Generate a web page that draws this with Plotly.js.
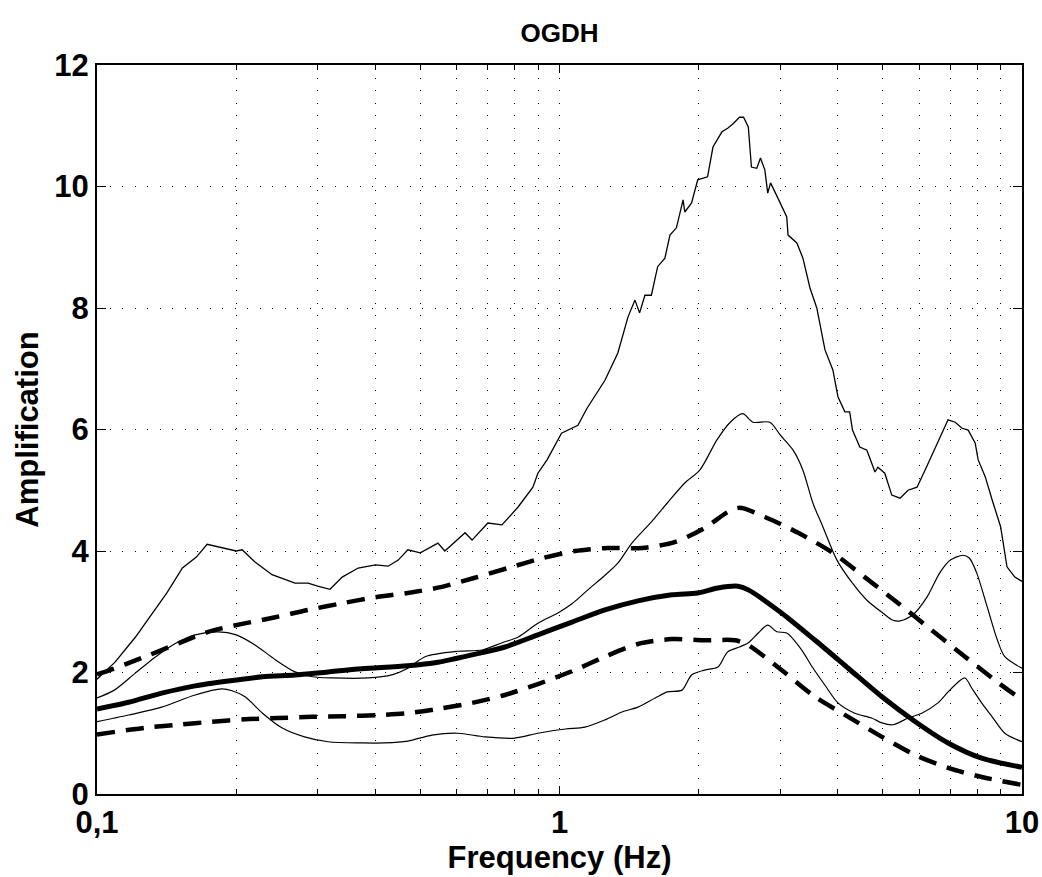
<!DOCTYPE html>
<html>
<head>
<meta charset="utf-8">
<script src="https://cdn.plot.ly/plotly-3.0.1.min.js"></script>
<style>html,body{margin:0;padding:0;background:#fff;}#chart{width:1042px;height:877px;}</style>
</head>
<body>
<div id="chart"></div>
<script>
// Upper thin curve
var fA = [0.1,0.1094,0.121,0.132,0.1416,0.153,0.164,0.173,0.186,0.2,0.206,0.2196,0.239,0.268,0.286,0.3,0.319,0.339,0.367,0.4,0.426,0.448,0.47,0.5,0.546,0.565,0.625,0.647,0.7,0.751,0.813,0.876,0.898,0.94,1.01,1.096,1.147,1.254,1.337,1.406,1.456,1.49,1.53,1.58,1.63,1.69,1.733,1.79,1.85,1.866,1.93,1.99,2.09,2.147,2.245,2.31,2.37,2.45,2.5,2.56,2.6,2.67,2.72,2.78,2.82,2.86,3.0,3.1,3.12,3.26,3.36,3.48,3.6,3.75,3.9,4.0,4.14,4.24,4.3,4.46,4.62,4.81,4.88,5.05,5.23,5.45,5.67,5.93,6.17,6.42,6.64,6.92,7.17,7.42,7.65,7.92,8.04,8.33,8.62,8.99,9.28,9.65,10];
var aA = [1.89,2.17,2.58,2.98,3.31,3.72,3.90,4.11,4.05,4.0,4.02,3.82,3.61,3.47,3.47,3.42,3.37,3.57,3.72,3.77,3.75,3.85,4.02,3.97,4.13,4.0,4.30,4.18,4.46,4.43,4.72,5.05,5.28,5.50,5.94,6.07,6.35,6.81,7.26,7.85,8.13,7.92,8.21,8.21,8.68,8.82,9.20,9.32,9.78,9.58,9.73,10.11,10.16,10.65,10.90,10.96,11.03,11.14,11.14,10.98,10.32,10.30,10.47,10.27,9.89,10.06,9.73,9.50,9.20,9.07,8.82,8.33,8.0,7.31,6.98,6.54,6.29,6.29,5.99,5.71,5.66,5.30,5.38,5.28,4.92,4.87,5.0,5.05,5.33,5.61,5.86,6.16,6.12,6.02,5.99,5.78,5.50,5.22,4.84,4.40,3.74,3.57,3.5];
// Middle thin curve
var fB = [0.1,0.109,0.121,0.134,0.148,0.163,0.183,0.2,0.22,0.243,0.268,0.292,0.323,0.385,0.434,0.47,0.512,0.603,0.68,0.751,0.813,0.898,0.992,1.064,1.152,1.254,1.337,1.434,1.58,1.71,1.866,2.01,2.19,2.34,2.49,2.62,2.85,3.0,3.2,3.36,3.53,3.71,3.98,4.3,4.62,5.0,5.26,5.45,5.81,6.23,6.64,7.0,7.45,7.7,7.98,8.41,8.85,9.18,10];
var aB = [1.58,1.71,1.99,2.26,2.48,2.62,2.67,2.62,2.45,2.21,2.01,1.93,1.91,1.91,1.96,2.07,2.26,2.35,2.37,2.49,2.58,2.81,2.98,3.13,3.36,3.60,3.80,4.13,4.48,4.79,5.12,5.33,5.83,6.12,6.26,6.12,6.12,5.91,5.66,5.33,4.79,4.40,3.85,3.47,3.19,2.98,2.86,2.85,2.95,3.24,3.64,3.85,3.93,3.88,3.64,3.08,2.53,2.26,2.07];
// Lower thin curve
var fC = [0.1,0.117,0.138,0.163,0.186,0.196,0.209,0.228,0.251,0.281,0.316,0.374,0.419,0.47,0.53,0.603,0.69,0.80,0.898,1.03,1.135,1.254,1.365,1.478,1.61,1.71,1.84,1.93,2.06,2.20,2.31,2.45,2.56,2.69,2.82,2.95,3.10,3.34,3.52,3.75,4.0,4.35,4.73,4.98,5.26,5.67,6.07,6.58,6.92,7.27,7.53,7.79,8.18,8.62,9.18,10];
var aC = [1.19,1.30,1.43,1.63,1.73,1.70,1.60,1.33,1.09,0.94,0.86,0.84,0.84,0.87,0.97,1.0,0.94,0.92,1.0,1.07,1.10,1.22,1.35,1.43,1.58,1.68,1.71,1.96,2.04,2.09,2.34,2.42,2.49,2.65,2.78,2.67,2.65,2.37,2.09,1.79,1.50,1.33,1.25,1.17,1.14,1.25,1.33,1.50,1.68,1.84,1.91,1.74,1.50,1.27,1.0,0.86];
// Thick mean curve
var fD = [0.1,0.117,0.138,0.163,0.192,0.228,0.268,0.316,0.374,0.47,0.546,0.647,0.762,0.898,1.064,1.254,1.478,1.75,1.99,2.20,2.43,2.56,3.02,3.57,4.21,4.98,5.88,6.92,8.18,10];
var aD = [1.40,1.51,1.66,1.78,1.86,1.93,1.96,2.01,2.06,2.11,2.17,2.29,2.42,2.62,2.83,3.03,3.18,3.28,3.31,3.39,3.42,3.36,2.98,2.53,2.07,1.60,1.19,0.84,0.59,0.44];
// Upper dashed curve
var fE = [0.1,0.104,0.127,0.15,0.174,0.206,0.243,0.286,0.339,0.40,0.47,0.557,0.656,0.774,0.916,1.08,1.27,1.51,1.78,2.06,2.31,2.45,2.78,3.28,3.88,4.57,5.40,6.37,7.53,8.89,10];
var aE = [1.97,2.01,2.26,2.48,2.67,2.80,2.91,3.03,3.14,3.24,3.31,3.41,3.56,3.72,3.88,4.0,4.05,4.05,4.15,4.38,4.64,4.71,4.56,4.30,3.98,3.57,3.14,2.70,2.26,1.83,1.55];
// Lower dashed curve
var fF = [0.1,0.127,0.15,0.177,0.209,0.246,0.292,0.344,0.405,0.47,0.546,0.647,0.762,0.898,1.064,1.254,1.478,1.75,2.06,2.40,2.56,3.02,3.57,4.21,4.98,5.88,6.92,8.18,10];
var aF = [0.98,1.09,1.14,1.19,1.23,1.25,1.27,1.28,1.30,1.33,1.40,1.50,1.63,1.81,2.02,2.26,2.47,2.55,2.53,2.53,2.45,2.04,1.60,1.27,0.94,0.64,0.43,0.28,0.15];

var xMajor = [0.1, 1, 10];
var xMajorText = ['0,1', '1', '10'];
var xMinor = [0.2,0.3,0.4,0.5,0.6,0.7,0.8,0.9,2,3,4,5,6,7,8,9];
var yTicks = [0,2,4,6,8,10,12];

function tr(x, y, w, dash, shape) {
  return {x: x, y: y, type: 'scatter', mode: 'lines', hoverinfo: 'skip',
    line: {color: '#000', width: w, dash: dash || 'solid', shape: shape || 'linear', smoothing: 0.8}};
}
var data = [
  tr(fA, aA, 1.3),
  tr(fB, aB, 1.2, null, 'spline'),
  tr(fC, aC, 1.2, null, 'spline'),
  tr(fD, aD, 5, null, 'spline'),
  tr(fE, aE, 4.5, '18px,11px', 'spline'),
  tr(fF, aF, 4.5, '18px,11px', 'spline')
];

var gridDash = '1px,11.5px';
var layout = {
  width: 1042, height: 877,
  margin: {l: 97, r: 20, t: 65, b: 83},
  paper_bgcolor: '#fff', plot_bgcolor: '#fff',
  showlegend: false,
  font: {family: 'Liberation Sans, Arial, sans-serif', color: '#000', size: 26},
  title: {text: '<b>OGDH</b>', font: {size: 26, color: '#000'}, xref: 'paper', x: 0.5, xanchor: 'center', yref: 'container', y: 0.962, yanchor: 'middle'},
  xaxis: {
    type: 'log', range: [-1, 1], tickmode: 'array', tickvals: xMajor, ticktext: xMajorText,
    ticks: 'inside', ticklen: 8, tickwidth: 1, tickcolor: '#000',
    showline: true, linewidth: 2, linecolor: '#000', mirror: 'ticks',
    showgrid: true, gridcolor: '#000', gridwidth: 1, griddash: gridDash,
    zeroline: false,
    tickfont: {family: 'Liberation Sans, Arial, sans-serif', size: 31, weight: 'bold', color: '#000'},
    minor: {tickmode: 'array', tickvals: xMinor, ticks: 'inside', ticklen: 5, tickwidth: 1, tickcolor: '#000',
            showgrid: true, gridcolor: '#000', gridwidth: 1, griddash: gridDash},
    title: {text: '<b>Frequency (Hz)</b>', font: {size: 31, color: '#000'}, standoff: 2}
  },
  yaxis: {
    range: [0, 12], tickmode: 'array', tickvals: yTicks,
    ticks: 'inside', ticklen: 9, tickwidth: 1, tickcolor: '#000',
    showline: true, linewidth: 2, linecolor: '#000', mirror: 'ticks',
    showgrid: true, gridcolor: '#000', gridwidth: 1, griddash: gridDash,
    zeroline: false,
    tickfont: {family: 'Liberation Sans, Arial, sans-serif', size: 31, weight: 'bold', color: '#000'},
    title: {text: '<b>Amplification</b>', font: {size: 31, color: '#000'}, standoff: 6}
  }
};
Plotly.newPlot('chart', data, layout, {displayModeBar: false, staticPlot: true});
</script>
</body>
</html>
